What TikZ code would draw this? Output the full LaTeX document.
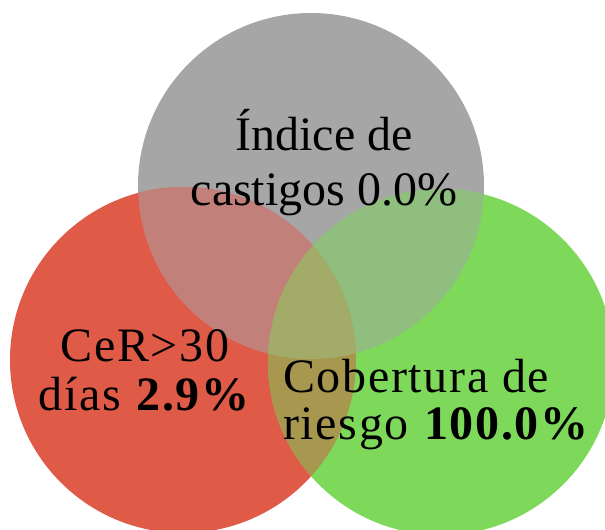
\documentclass[tikz,border=0pt]{standalone}
\usepackage{fontspec}
\setmainfont{Liberation Serif}
\usepackage{xcolor}
\definecolor{Slate}{HTML}{A6A6A6}
\definecolor{Tomato}{HTML}{E05A48}
\definecolor{Leaf}{HTML}{7ED95A}
\definecolor{SlateTomato}{HTML}{C2807A}
\definecolor{SlateLeaf}{HTML}{90BE7F}
\definecolor{TomatoLeaf}{HTML}{A8974E}
\definecolor{AllThree}{HTML}{A3AB68}
\definecolor{Ink}{HTML}{000000}
\tikzset{
  vtext/.style={align=center,text=Ink,font=\fontsize{48}{52}\selectfont,inner sep=0pt},
  disc/.style={circle,minimum size=346pt,inner sep=0pt}
}

\begin{document}
\begin{tikzpicture}[x=1pt,y=-1pt]
  \useasboundingbox (0,0) rectangle (605,530);
  \clip (0,0) rectangle (605,530);
  % the three sets
  \node[disc,fill=Slate] (idx) at (311,186) {};
  \node[disc,fill=Tomato] (cer) at (183,360) {};
  \node[disc,fill=Leaf] (cob) at (441,362) {};
  % overlaps
  \begin{scope}
    \clip (idx.center) circle[radius=173];
    \fill[SlateTomato] (cer.center) circle[radius=173];
    \fill[SlateLeaf] (cob.center) circle[radius=173];
  \end{scope}
  \begin{scope}
    \clip (cer.center) circle[radius=173];
    \fill[TomatoLeaf] (cob.center) circle[radius=173];
    \clip (cob.center) circle[radius=173];
    \fill[AllThree] (idx.center) circle[radius=173];
  \end{scope}
  % texts
  \node[vtext,font=\fontsize{48}{55}\selectfont] (idxtext) at (324,163) {Índice de\\castigos 0.0\%};
  \node[vtext,font=\fontsize{48}{49}\selectfont\addfontfeature{LetterSpace=3.5}] (certext) at (145,370) {CeR>30\\días \textbf{2.9\%}};
  \node[vtext,align=left,anchor=west,font=\fontsize{48}{47}\selectfont\addfontfeature{LetterSpace=3.5}] (cobtext) at (283,405) {Cobertura de\\riesgo \textbf{100.0\%}};
\end{tikzpicture}
\end{document}
